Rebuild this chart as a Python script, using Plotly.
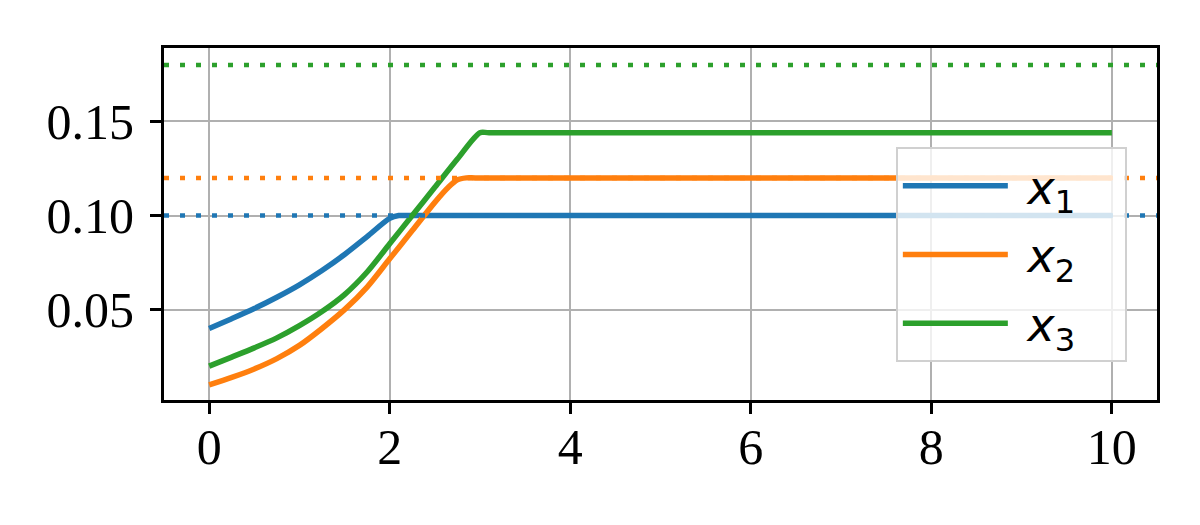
import plotly.graph_objects as go

# values
t_x1 = [0, 0.25, 0.5, 0.75, 1.0, 1.25, 1.5, 1.75, 2.0, 2.1, 2.2, 10]
x1 = [0.040, 0.0452, 0.0506, 0.0566, 0.0632, 0.0708, 0.0793, 0.0888, 0.0985,
      0.100, 0.100, 0.100]

t_x2 = [0, 0.25, 0.5, 0.75, 1.0, 1.25, 1.5, 1.75, 2.0, 2.25, 2.5, 2.65, 2.75,
        2.85, 2.95, 10]
x2 = [0.010, 0.014, 0.0185, 0.024, 0.031, 0.040, 0.050, 0.062, 0.077, 0.092,
      0.107, 0.115, 0.119, 0.120, 0.120, 0.120]

t_x3 = [0, 0.25, 0.5, 0.75, 1.0, 1.25, 1.5, 1.75, 2.0, 2.25, 2.5, 2.75, 3.0,
        3.1, 10]
x3 = [0.020, 0.0248, 0.0297, 0.035, 0.0415, 0.049, 0.058, 0.070, 0.085, 0.100,
      0.115, 0.130, 0.144, 0.144, 0.144]

limits = [0.10, 0.12, 0.18]
names = ["x1", "x2", "x3"]
labels = ["&nbsp;<i>x</i><sub>1</sub>&nbsp;&nbsp;&nbsp;",
          "&nbsp;<i>x</i><sub>2</sub>&nbsp;&nbsp;&nbsp;",
          "&nbsp;<i>x</i><sub>3</sub>&nbsp;&nbsp;&nbsp;"]
colors = ["#1f77b4", "#ff7f0e", "#2ca02c"]

fig = go.Figure()

for t, v, name, label, c in zip([t_x1, t_x2, t_x3], [x1, x2, x3], names, labels, colors):
    fig.add_trace(go.Scatter(
        x=t, y=v, mode="lines", name=label, legendgroup=name,
        line=dict(color=c, width=5.5, shape="spline", smoothing=0.8),
    ))

# dotted bound lines
for lim, c in zip(limits, colors):
    fig.add_hline(y=lim, line=dict(color=c, width=4.5, dash="5px,11px"), layer="above")

axis_style = dict(
    showline=True, linecolor="black", linewidth=3, mirror=True,
    ticks="outside", ticklen=11, tickwidth=3, tickcolor="black",
    showgrid=True, gridcolor="#b0b0b0", gridwidth=2,
    zeroline=False,
    tickfont=dict(family="Liberation Serif", size=50, color="black"),
)

fig.update_layout(
    width=1200, height=525,
    margin=dict(l=156, r=51, t=40, b=133),
    paper_bgcolor="white",
    plot_bgcolor="white",
    xaxis=dict(range=[-0.5, 10.5], tickvals=[0, 2, 4, 6, 8, 10],
               ticklabelstandoff=-10, **axis_style),
    yaxis=dict(range=[0.002, 0.189], tickvals=[0.05, 0.10, 0.15], tickformat=".2f",
               ticklabelstandoff=6, **axis_style),
    legend=dict(
        x=0.737, y=0.718, xanchor="left", yanchor="top",
        bgcolor="rgba(255,255,255,0.8)", bordercolor="#d0d0d0", borderwidth=2,
        font=dict(family="DejaVu Sans", size=46, color="black"),
        itemwidth=105, tracegroupgap=6,
    ),
    showlegend=True,
)

fig.write_html("out.html")
